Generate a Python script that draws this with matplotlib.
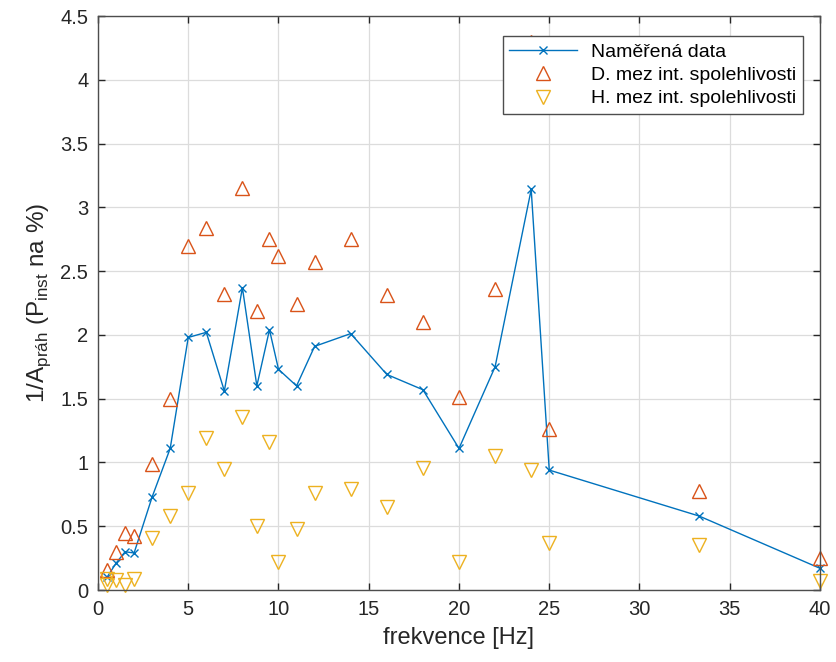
import matplotlib.pyplot as plt
import numpy as np

plt.rcParams['font.family'] = ['Liberation Sans', 'DejaVu Sans']
plt.rcParams['mathtext.fontset'] = 'custom'
plt.rcParams['mathtext.rm'] = 'Liberation Sans'

# Measured threshold data and confidence interval limits
freq = [0.5, 1, 1.5, 2, 3, 4, 5, 6, 7, 8, 8.8, 9.5, 10, 11, 12, 14, 16, 18,
        20, 22, 24, 25, 33.3, 40]
measured = [0.10, 0.21, 0.30, 0.29, 0.73, 1.11, 1.98, 2.02, 1.56, 2.37, 1.60,
            2.04, 1.73, 1.60, 1.91, 2.01, 1.69, 1.57, 1.11, 1.75, 3.14, 0.94,
            0.58, 0.17]
upper = [0.16, 0.30, 0.45, 0.42, 0.99, 1.50, 2.70, 2.84, 2.32, 3.15, 2.19,
         2.75, 2.62, 2.24, 2.57, 2.75, 2.31, 2.10, 1.51, 2.36, 4.30, 1.26,
         0.78, 0.25]
freq_low = [0.5, 0.5, 1, 1.5, 2, 3, 4, 5, 6, 7, 8, 8.8, 9.5, 10, 11, 12, 14,
            16, 18, 20, 22, 24, 25, 33.3, 40]
lower = [0.09, 0.04, 0.08, 0.04, 0.09, 0.41, 0.58, 0.76, 1.19, 0.95, 1.36,
         0.50, 1.16, 0.22, 0.48, 0.76, 0.79, 0.65, 0.96, 0.22, 1.05, 0.94,
         0.37, 0.35, 0.07]

colors = ['#0072BD', '#D95319', '#EDB120']

fig = plt.figure(figsize=(8.37, 6.62), dpi=100)
ax = fig.add_axes([98 / 837, 72 / 662, 722 / 837, 574 / 662])

ax.plot(freq, measured, color=colors[0], linewidth=1.0, marker='x',
        markersize=6, markeredgewidth=1.0, label='Naměřená data', clip_on=False)
ax.plot(freq, upper, linestyle='none', marker='^', markersize=10,
        markerfacecolor='none', markeredgecolor=colors[1], markeredgewidth=1.0,
        label='D. mez int. spolehlivosti', clip_on=False)
ax.plot(freq_low, lower, linestyle='none', marker='v', markersize=10,
        markerfacecolor='none', markeredgecolor=colors[2], markeredgewidth=1.0,
        label='H. mez int. spolehlivosti', clip_on=False)

ax.set_xlim(0, 40)
ax.set_ylim(0, 4.5)
ax.set_xticks(np.arange(0, 41, 5))
ax.set_yticks(np.arange(0, 4.51, 0.5))
ax.set_yticklabels(['0', '0.5', '1', '1.5', '2', '2.5', '3', '3.5', '4', '4.5'])

ax.set_xlabel('frekvence [Hz]', fontsize=17, color='#262626', labelpad=6)
ax.set_ylabel(r'1/A$_\mathregular{práh}$ (P$_\mathregular{inst}$ na %)',
              fontsize=17.5, color='#262626', labelpad=5)

ax.tick_params(axis='both', which='major', labelsize=14.5, length=5,
               direction='in', top=True, right=True, colors='#262626',
               width=1.0, pad=7)
for side in ax.spines.values():
    side.set_color('#4d4d4d')
    side.set_linewidth(1.0)
ax.grid(color='#dcdcdc', linewidth=0.9)
ax.set_axisbelow(True)

leg = ax.legend(loc='upper right', bbox_to_anchor=(0.9765, 0.965), fontsize=14,
                fancybox=False, framealpha=1, edgecolor='#4d4d4d',
                handlelength=3.5, borderpad=0.35, labelspacing=0.3,
                handletextpad=0.7, borderaxespad=0)
leg.get_frame().set_linewidth(1.0)
leg.set_zorder(10)

plt.savefig('out.png', dpi=100)
